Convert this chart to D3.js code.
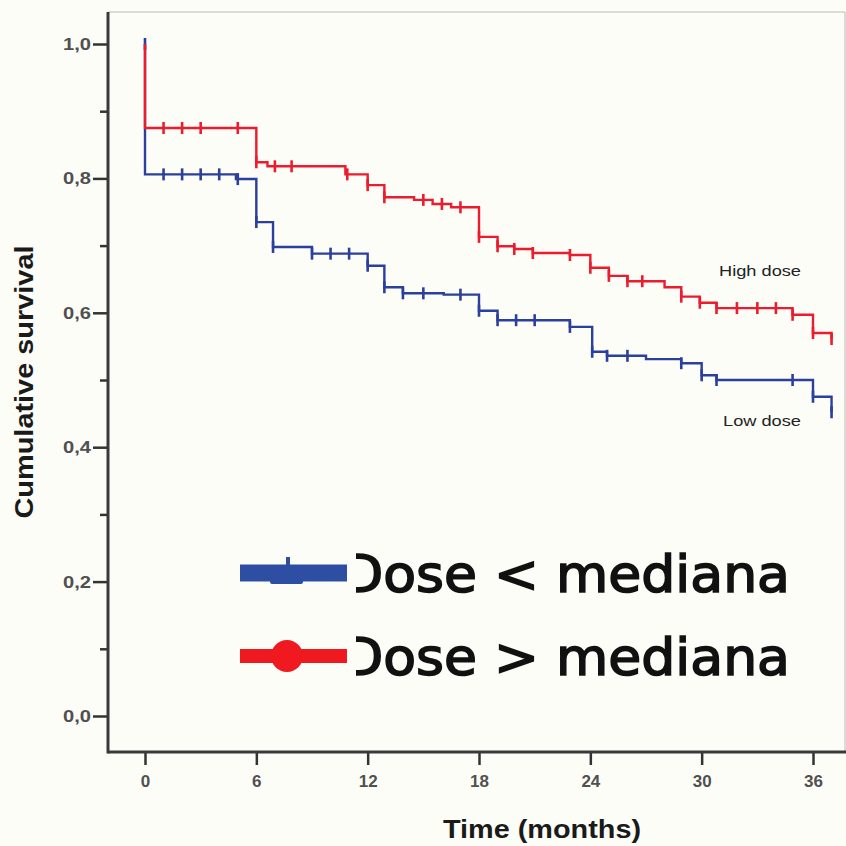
<!DOCTYPE html>
<html>
<head>
<meta charset="utf-8">
<script src="https://cdn.jsdelivr.net/npm/d3@7"></script>
<style>
  html, body { margin: 0; padding: 0; background: #fdfdf8; }
  svg { display: block; }
</style>
</head>
<body>
<div id="chart"></div>
<script>

// data
var highTimes = [0, 0, 6, 6.6, 10.8, 12, 12.9, 14.5, 15.5, 16.5, 18, 19, 19.9, 20.9, 22.9, 24, 25, 26, 28, 28.9, 29.9, 30.8, 34.9, 36, 37];
var highSurv  = [1.0, 0.875, 0.824, 0.818, 0.806, 0.790, 0.772, 0.768, 0.762, 0.757, 0.713, 0.699, 0.695, 0.689, 0.686, 0.667, 0.655, 0.647, 0.638, 0.624, 0.615, 0.607, 0.597, 0.570, 0.561];
var highCensor = [1, 2, 3, 5, 6, 7, 7.9, 10.9, 12, 12.9, 15, 16, 17, 18, 19, 19.9, 20.9, 22.9, 24, 25, 26, 26.8, 28.9, 29.9, 30.8, 31.9, 33, 34, 34.9, 36, 37];

var lowTimes = [0, 0, 4.9, 6, 6.9, 9, 12, 12.9, 13.9, 16.1, 18, 19, 22.9, 24.1, 24.9, 27, 28.9, 30, 30.8, 36, 37];
var lowSurv  = [1.0, 0.806, 0.799, 0.735, 0.698, 0.688, 0.670, 0.638, 0.629, 0.627, 0.603, 0.589, 0.579, 0.542, 0.536, 0.531, 0.525, 0.507, 0.500, 0.475, 0.452];
var lowCensor = [0, 1, 2, 3, 4, 5, 6, 6.9, 9, 10, 11, 12, 12.9, 13.9, 15, 17, 18, 19, 20, 21, 22.9, 24.1, 24.9, 26, 28.9, 30, 30.8, 34.9, 36, 37];

var xTicks = [0, 6, 12, 18, 24, 30, 36];
var yTicks = [0, 0.2, 0.4, 0.6, 0.8, 1.0];
var yMinorTicks = [0.1, 0.3, 0.5, 0.7, 0.9];

var legendLabels = ["Dose < mediana", "Dose > mediana"];
var curveLabels = ["High dose", "Low dose"];

// colours
var BLUE = "#2b3f9c";
var RED = "#ec1b2e";
var LEGEND_BLUE = "#2d4ea3";
var LEGEND_RED = "#f01920";

var W = 846, H = 846;

// frame
var frame = { left: 108, right: 845, top: 12, bottom: 752 };

var xScale = d3.scaleLinear().domain([0, 36]).range([145, 813]);
var yScale = d3.scaleLinear().domain([0, 1]).range([716, 44]);

var svg = d3.select("#chart").append("svg")
    .attr("width", W)
    .attr("height", H);

svg.append("rect")
   .attr("width", W).attr("height", H)
   .attr("fill", "#fdfdf8");

// thin top / right border
svg.append("line")
   .attr("x1", frame.left).attr("x2", frame.right)
   .attr("y1", frame.top).attr("y2", frame.top)
   .attr("stroke", "#cfcfcf").attr("stroke-width", 1.5);
svg.append("line")
   .attr("x1", frame.right).attr("x2", frame.right)
   .attr("y1", frame.top).attr("y2", frame.bottom)
   .attr("stroke", "#cfcfcf").attr("stroke-width", 1.5);

// y axis
var yAxis = svg.append("g")
    .attr("transform", "translate(" + frame.left + ",0)")
    .call(d3.axisLeft(yScale)
        .tickValues(yTicks)
        .tickSize(15)
        .tickPadding(2)
        .tickFormat(function(d) { return d3.format(".1f")(d).replace(".", ","); }));

svg.append("g")
   .attr("transform", "translate(" + frame.left + ",0)")
   .call(d3.axisLeft(yScale).tickValues(yMinorTicks).tickSize(8).tickFormat(""))
   .select(".domain").remove();

// x axis
var xAxis = svg.append("g")
    .attr("transform", "translate(0," + frame.bottom + ")")
    .call(d3.axisBottom(xScale)
        .tickValues(xTicks)
        .tickSize(13)
        .tickPadding(8)
        .tickSizeOuter(0));

// replace domain lines with the heavy frame lines
svg.selectAll(".domain").remove();
svg.append("line")
   .attr("x1", frame.left).attr("x2", frame.left)
   .attr("y1", frame.top).attr("y2", frame.bottom + 1.5)
   .attr("stroke", "#3a3a3a").attr("stroke-width", 3);
svg.append("line")
   .attr("x1", frame.left).attr("x2", frame.right + 1)
   .attr("y1", frame.bottom).attr("y2", frame.bottom)
   .attr("stroke", "#3a3a3a").attr("stroke-width", 3);

svg.selectAll(".tick line")
   .attr("stroke", "#333")
   .attr("stroke-width", 2.5);

svg.selectAll(".tick text")
   .attr("fill", "#505050")
   .attr("font-family", "'Liberation Sans', Arial, sans-serif")
   .attr("font-weight", "bold")
   .attr("font-size", "17px");

yAxis.selectAll(".tick text")
   .attr("textLength", 28).attr("lengthAdjust", "spacingAndGlyphs");
xAxis.selectAll(".tick text").attr("dy", "0.85em");

// curves
function drawCurve(times, surv, censor, color)
{
    var pts = times.map(function(t, i) { return [t, surv[i]]; });
    var end = censor[censor.length - 1];
    pts.push([end, surv[surv.length - 1]]);

    var lineGen = d3.line()
        .x(function(d) { return xScale(d[0]); })
        .y(function(d) { return yScale(d[1]); })
        .curve(d3.curveStepAfter);

    svg.append("path")
       .attr("d", lineGen(pts))
       .attr("fill", "none")
       .attr("stroke", color)
       .attr("stroke-width", 2.4);

    // censor marks
    svg.append("g").selectAll("line")
       .data(censor)
       .enter().append("line")
       .attr("x1", function(d) { return xScale(d); })
       .attr("x2", function(d) { return xScale(d); })
       .attr("y1", function(d) { return yScale(survAt(times, surv, d)) - 6; })
       .attr("y2", function(d) { return yScale(survAt(times, surv, d)) + 6; })
       .attr("stroke", color)
       .attr("stroke-width", 2.6);
}

function survAt(times, surv, t)
{
    var s = surv[0];
    for (var i = 0; i < times.length; i++) {
        if (times[i] <= t) s = surv[i];
    }
    if (t === 0) s = surv[0];
    return s;
}

drawCurve(lowTimes, lowSurv, lowCensor, BLUE);
drawCurve(highTimes, highSurv, highCensor, RED);

// curve labels
svg.append("text")
   .attr("x", 760).attr("y", 276)
   .attr("text-anchor", "middle")
   .attr("textLength", 82).attr("lengthAdjust", "spacingAndGlyphs")
   .style("font-family", "'Liberation Sans', Arial, sans-serif")
   .style("font-size", "14px")
   .attr("fill", "#222")
   .text(curveLabels[0]);

svg.append("text")
   .attr("x", 762).attr("y", 426)
   .attr("text-anchor", "middle")
   .attr("textLength", 78).attr("lengthAdjust", "spacingAndGlyphs")
   .style("font-family", "'Liberation Sans', Arial, sans-serif")
   .style("font-size", "14px")
   .attr("fill", "#222")
   .text(curveLabels[1]);

// axis titles
svg.append("text")
   .attr("transform", "translate(33,382) rotate(-90)")
   .attr("text-anchor", "middle")
   .attr("textLength", 273).attr("lengthAdjust", "spacingAndGlyphs")
   .style("font-family", "'Liberation Sans', Arial, sans-serif")
   .style("font-weight", "bold")
   .style("font-size", "25px")
   .attr("fill", "#1a1a1a")
   .text("Cumulative survival");

svg.append("text")
   .attr("x", 542).attr("y", 838)
   .attr("text-anchor", "middle")
   .attr("textLength", 198).attr("lengthAdjust", "spacingAndGlyphs")
   .style("font-family", "'Liberation Sans', Arial, sans-serif")
   .style("font-weight", "bold")
   .style("font-size", "25px")
   .attr("fill", "#1a1a1a")
   .text("Time (months)");

// legend
var legendY = [573, 656];
var legendX0 = 240, legendX1 = 347;

svg.append("defs").append("clipPath")
   .attr("id", "legendClip")
   .append("rect")
   .attr("x", 356).attr("y", 520)
   .attr("width", 480).attr("height", 200);

svg.append("line")
   .attr("x1", legendX0).attr("x2", legendX1)
   .attr("y1", legendY[0]).attr("y2", legendY[0])
   .attr("stroke", LEGEND_BLUE).attr("stroke-width", 17);
svg.append("rect")
   .attr("x", 270).attr("y", legendY[0] + 6)
   .attr("width", 33).attr("height", 5)
   .attr("rx", 2)
   .attr("fill", LEGEND_BLUE);
svg.append("line")
   .attr("x1", 288).attr("x2", 288)
   .attr("y1", legendY[0] - 16).attr("y2", legendY[0])
   .attr("stroke", LEGEND_BLUE).attr("stroke-width", 4);

svg.append("line")
   .attr("x1", legendX0).attr("x2", legendX1)
   .attr("y1", legendY[1]).attr("y2", legendY[1])
   .attr("stroke", LEGEND_RED).attr("stroke-width", 14);
svg.append("circle")
   .attr("cx", 287).attr("cy", legendY[1])
   .attr("r", 16)
   .attr("fill", LEGEND_RED);

svg.append("g")
   .attr("clip-path", "url(#legendClip)")
   .selectAll("text")
   .data(legendLabels)
   .enter().append("text")
   .attr("x", 342)
   .attr("y", function(d, i) { return legendY[i] + 19; })
   .attr("textLength", 448).attr("lengthAdjust", "spacingAndGlyphs")
   .style("font-family", "'DejaVu Sans', Verdana, sans-serif")
   .style("font-size", "51px")
   .attr("fill", "#111")
   .attr("stroke", "#111")
   .attr("stroke-width", 1.6)
   .text(function(d) { return d; });

</script>
</body>
</html>
